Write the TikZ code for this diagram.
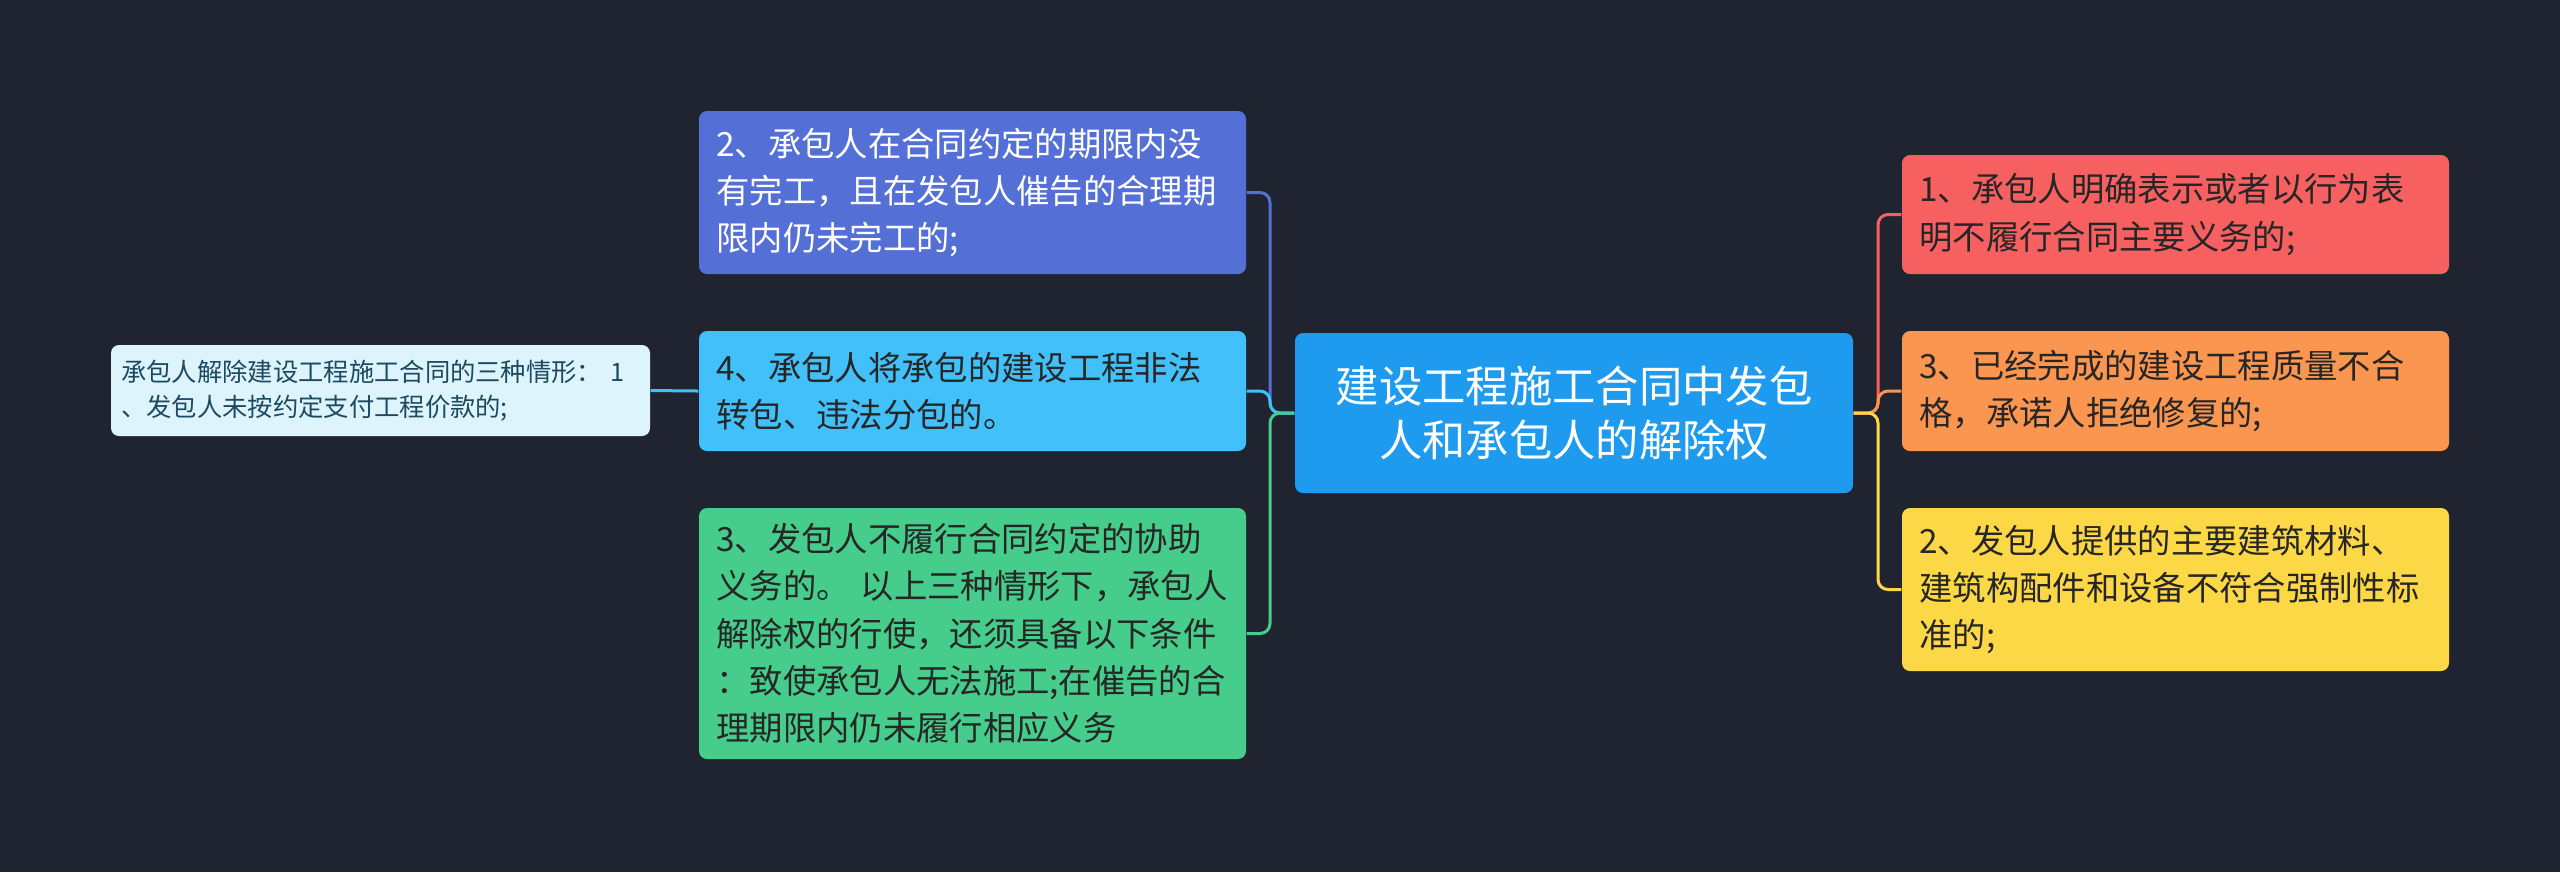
\documentclass[tikz,border=0pt]{standalone}
\usepackage{fontspec}
\setmainfont{Noto Sans CJK SC}
\definecolor{bg}{HTML}{202430}
\definecolor{cmain}{HTML}{1E9AEE}
\definecolor{cblue}{HTML}{5470D6}
\definecolor{clight}{HTML}{42C0FA}
\definecolor{cgreen}{HTML}{46CC8B}
\definecolor{cpale}{HTML}{DDF4FD}
\definecolor{cred}{HTML}{F76060}
\definecolor{corange}{HTML}{FB9650}
\definecolor{cyellow}{HTML}{FDD846}
\definecolor{tdark}{HTML}{262626}
\definecolor{tpale}{HTML}{1D4A60}
\tikzset{
  box/.style={rectangle, rounded corners=2.4pt, inner xsep=5.2pt, inner ysep=0pt,
    minimum width=164.1pt, text width=153.7pt, align=left,
    font=\fontsize{10.0pt}{14.2pt}\selectfont, text=tdark},
  mainbox/.style={rectangle, rounded corners=2.4pt, fill=cmain, inner sep=0pt,
    minimum width=167.4pt, minimum height=48pt, align=center, text=white,
    font=\fontsize{13.0pt}{16.2pt}\selectfont},
  palebox/.style={rectangle, rounded corners=2.4pt, fill=cpale, inner xsep=3pt, inner ysep=0pt,
    minimum width=161.7pt, minimum height=27.3pt, text width=155.7pt, align=left, text=tpale,
    font=\fontsize{7.6pt}{10.3pt}\selectfont},
  conn/.style={line width=0.9pt, rounded corners=3pt}
}
\begin{document}
\begin{tikzpicture}[x=0.3pt, y=-0.3pt]
\useasboundingbox (0,0) rectangle (2560,872);
\fill[bg] (0,0) rectangle (2560,872);
% nodes
\node[mainbox] (C) at (1574,413) {建设工程施工合同中发包\\人和承包人的解除权};
\node[box, fill=cblue, text=white, minimum height=48.9pt] (B2) at (972.5,192.5)
  {2、承包人在合同约定的期限内没\\有完工，且在发包人催告的合理期\\限内仍未完工的;};
\node[box, fill=clight, minimum height=36pt] (B4) at (972.5,391)
  {4、承包人将承包的建设工程非法\\转包、违法分包的。};
\node[box, fill=cgreen, minimum height=75.3pt] (B3) at (972.5,633.5)
  {3、发包人不履行合同约定的协助\\义务的。~以上三种情形下，承包人\\解除权的行使，还须具备以下条件\\：致使承包人无法施工;在催告的合\\理期限内仍未履行相应义务};
\node[palebox] (P) at (380.5,390.5)
  {承包人解除建设工程施工合同的三种情形：~1\\、发包人未按约定支付工程价款的;};
\node[box, fill=cred, minimum height=35.7pt] (R1) at (2175.5,214.5)
  {1、承包人明确表示或者以行为表\\明不履行合同主要义务的;};
\node[box, fill=corange, minimum height=36pt] (R3) at (2175.5,391)
  {3、已经完成的建设工程质量不合\\格，承诺人拒绝修复的;};
\node[box, fill=cyellow, minimum height=48.9pt] (R2) at (2175.5,589.5)
  {2、发包人提供的主要建筑材料、\\建筑构配件和设备不符合强制性标\\准的;};
% junctions
\coordinate (LJ) at (1270,413);
\coordinate (RJ) at (1878,413);
% connectors
\draw[conn, cblue] (C.west) -- (LJ) |- (B2.east);
\draw[conn, clight] (C.west) -- (LJ) |- (B4.east);
\draw[conn, cgreen] (C.west) -- (LJ) |- (B3.east);
\draw[conn, clight] (B4.west) -- (P.east);
\draw[conn, cred] (C.east) -- (RJ) |- (R1.west);
\draw[conn, corange] (C.east) -- (RJ) |- (R3.west);
\draw[conn, cyellow] (C.east) -- (RJ) |- (R2.west);
\end{tikzpicture}
\end{document}
